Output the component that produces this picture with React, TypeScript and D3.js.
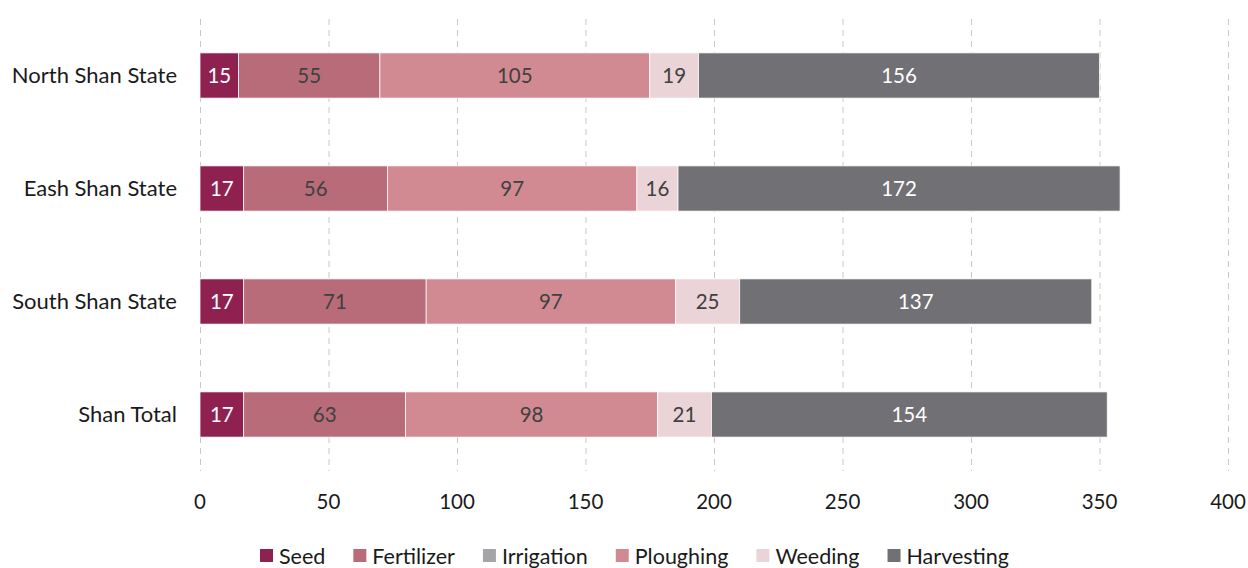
import React, { useEffect, useRef } from "react";
import * as d3 from "d3";

const categories = ["North Shan State", "Eash Shan State", "South Shan State", "Shan Total"];
const seriesNames = ["Seed", "Fertilizer", "Irrigation", "Ploughing", "Weeding", "Harvesting"];
const seed = [15, 17, 17, 17];
const fertilizer = [55, 56, 71, 63];
const irrigation = [0, 0, 0, 0];
const ploughing = [105, 97, 97, 98];
const weeding = [19, 16, 25, 21];
const harvesting = [156, 172, 137, 154];
const xTicks = [0, 50, 100, 150, 200, 250, 300, 350, 400];

const colors = ["#8E2150", "#B86C7A", "#A5A5A8", "#D28A92", "#EBD4D7", "#717175"];
const labelColors = ["#ffffff", "#404040", "#404040", "#404040", "#404040", "#ffffff"];

const W = 1248;
const H = 568;
const FONT = "Lato, 'Open Sans', sans-serif";

export default function App() {
  const ref = useRef<SVGSVGElement | null>(null);

  useEffect(() => {
    const svg = d3.select(ref.current);
    svg.selectAll("*").remove();

    const series = [seed, fertilizer, irrigation, ploughing, weeding, harvesting];
    const rows = categories.map((c, i) => {
      const o: any = { cat: c };
      seriesNames.forEach((s, k) => (o[s] = series[k][i]));
      return o;
    });
    const stacked = d3.stack<any>().keys(seriesNames)(rows);

    const x = d3.scaleLinear().domain([0, 400]).range([200, 1228]);
    const y = d3
      .scaleBand<string>()
      .domain(categories)
      .range([19, 471])
      .paddingInner(0.6)
      .paddingOuter(0.3);

    // grid
    svg
      .append("g")
      .selectAll("line")
      .data(xTicks)
      .join("line")
      .attr("x1", (d) => x(d) + 0.5)
      .attr("x2", (d) => x(d) + 0.5)
      .attr("y1", 19)
      .attr("y2", 471)
      .attr("stroke", "#C8C8C8")
      .attr("stroke-width", 1)
      .attr("stroke-dasharray", "6,5");

    // bars
    const layers = svg
      .append("g")
      .selectAll("g")
      .data(stacked)
      .join("g")
      .attr("fill", (_d, i) => colors[i]);

    layers
      .selectAll("rect")
      .data((d) => d.map((p) => ({ p, key: d.key })))
      .join("rect")
      .attr("x", (d) => x(d.p[0]))
      .attr("y", (d) => y(d.p.data.cat)!)
      .attr("width", (d) => Math.max(0, x(d.p[1]) - x(d.p[0])))
      .attr("height", y.bandwidth())
      .attr("stroke", "#ffffff")
      .attr("stroke-width", (d) => (d.p[1] - d.p[0] > 0 ? 0.75 : 0));

    // data labels
    stacked.forEach((layer, k) => {
      svg
        .append("g")
        .selectAll("text")
        .data(layer.filter((p) => p[1] - p[0] > 0))
        .join("text")
        .attr("x", (p) => (x(p[0]) + x(p[1])) / 2)
        .attr("y", (p) => y(p.data.cat)! + y.bandwidth() / 2)
        .attr("dy", "0.35em")
        .attr("text-anchor", "middle")
        .attr("font-family", FONT)
        .attr("font-size", 20.5)
        .attr("fill", labelColors[k])
        .text((p) => String(p[1] - p[0]));
    });

    // category labels
    svg
      .append("g")
      .selectAll("text")
      .data(categories)
      .join("text")
      .attr("x", 177)
      .attr("y", (d) => y(d)! + y.bandwidth() / 2)
      .attr("dy", "0.35em")
      .attr("text-anchor", "end")
      .attr("font-family", FONT)
      .attr("font-size", 22)
      .attr("fill", "#1a1a1a")
      .text((d) => d);

    // x tick labels
    svg
      .append("g")
      .selectAll("text")
      .data(xTicks)
      .join("text")
      .attr("x", (d) => x(d))
      .attr("y", 502)
      .attr("dy", "0.35em")
      .attr("text-anchor", "middle")
      .attr("font-family", FONT)
      .attr("font-size", 20.5)
      .attr("fill", "#1a1a1a")
      .text((d) => String(d));

    // legend
    const lg = svg.append("g");
    let cx = 260;
    seriesNames.forEach((name, i) => {
      lg.append("rect")
        .attr("x", cx)
        .attr("y", 549)
        .attr("width", 13)
        .attr("height", 13)
        .attr("fill", colors[i]);
      const t = lg
        .append("text")
        .attr("x", cx + 19)
        .attr("y", 556)
        .attr("dy", "0.35em")
        .attr("font-family", FONT)
        .attr("font-size", 21.5)
        .attr("fill", "#1a1a1a")
        .text(name);
      const w = (t.node() as SVGTextElement).getComputedTextLength();
      cx += 19 + w + 28;
    });
  }, []);

  return (
    <svg
      ref={ref}
      width={W}
      height={H}
      style={{ position: "absolute", left: 0, top: 0, background: "#fff" }}
    />
  );
}
